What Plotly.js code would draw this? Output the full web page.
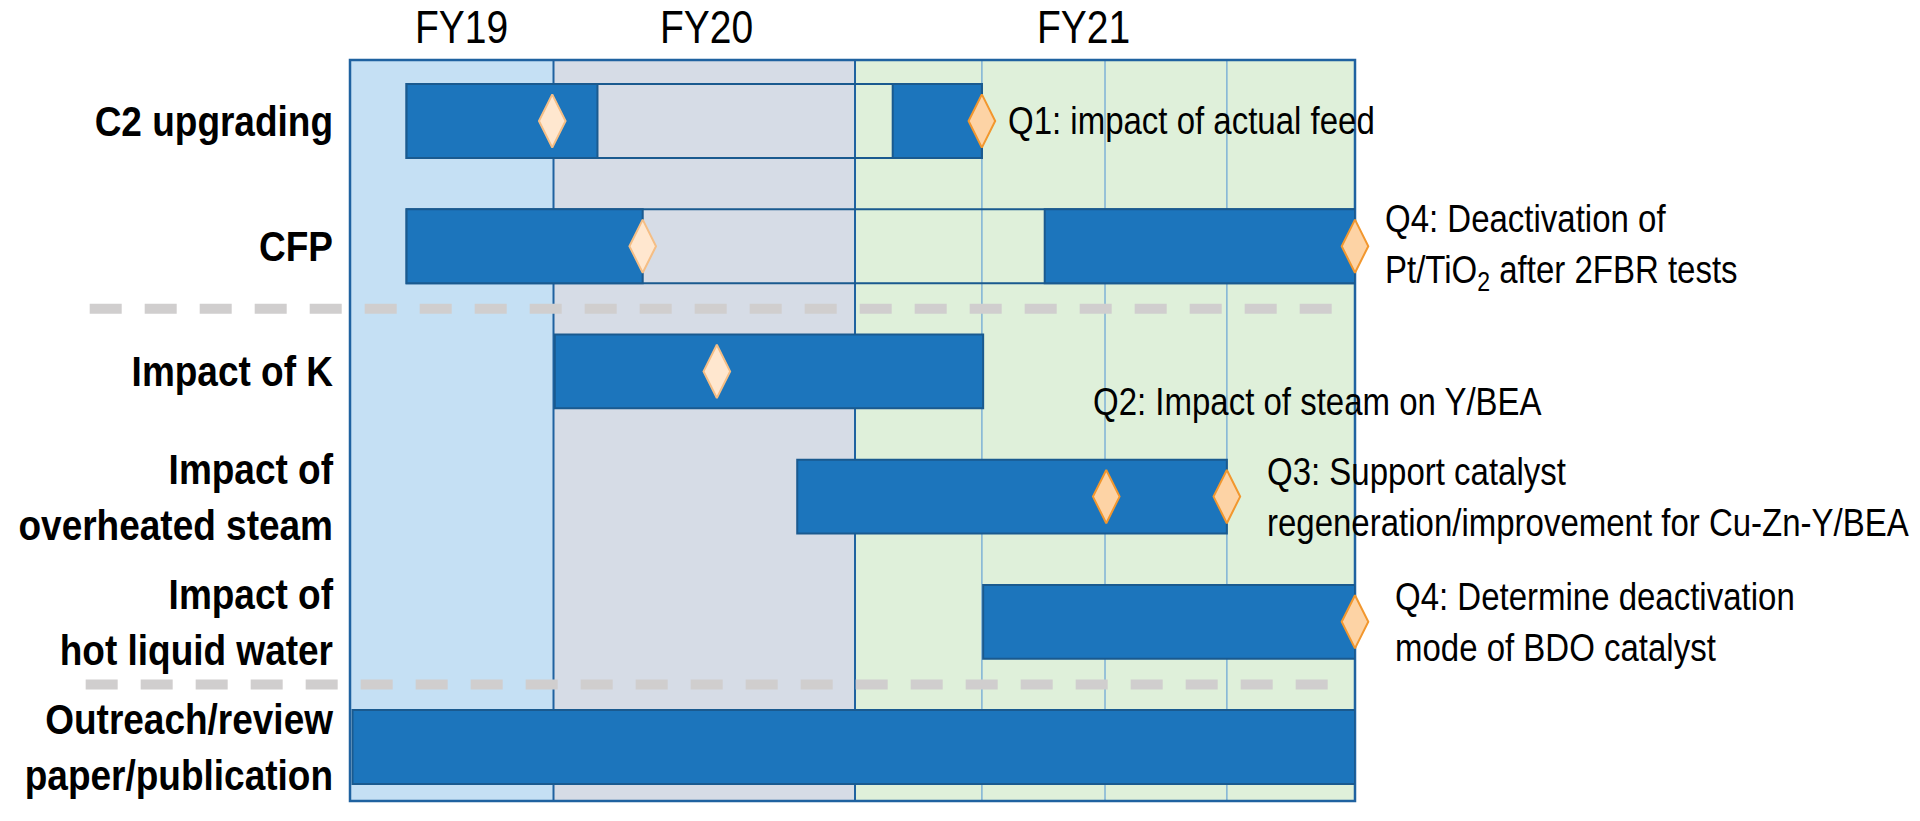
<!DOCTYPE html>
<html><head><meta charset="utf-8">
<script src="https://cdn.plot.ly/plotly-3.0.1.min.js"></script>
<style>html,body{margin:0;padding:0;background:#fff;}#chart{width:1920px;height:821px;}</style>
</head><body><div id="chart"></div>
<script>
// Timeline unit: one FY21 quarter
const fyNames = ['FY19', 'FY20', 'FY21'];
const fyStart = [0, 1.62, 4.02];
const fyEnd = [1.62, 4.02, 8.0];
const fyLabelX = [0.89, 2.84, 5.84];
const quarterLines = [5.03, 6.01, 6.98];

const tasks = ['C2 upgrading', 'CFP', 'Impact of K', 'Impact of<br>overheated steam', 'Impact of<br>hot liquid water', 'Outreach/review<br>paper/publication'];

// overall span outlines (tasks with gaps)
const spanTask = ['C2 upgrading', 'CFP'];
const spanStart = [0.45, 0.45];
const spanEnd = [5.03, 8.0];

// active work segments
const segTask = ['C2 upgrading', 'C2 upgrading', 'CFP', 'CFP', 'Impact of K', 'Impact of<br>overheated steam', 'Impact of<br>hot liquid water', 'Outreach/review<br>paper/publication'];
const segStart = [0.45, 4.32, 0.45, 5.53, 1.63, 3.56, 5.04, 0.02];
const segEnd = [1.97, 5.03, 2.33, 8.0, 5.04, 6.98, 8.0, 8.0];

// milestones: completed (light) and planned (orange)
const doneTask = ['C2 upgrading', 'CFP', 'Impact of K'];
const doneX = [1.61, 2.33, 2.92];
const planTask = ['C2 upgrading', 'CFP', 'Impact of<br>overheated steam', 'Impact of<br>overheated steam', 'Impact of<br>hot liquid water'];
const planX = [5.03, 8.0, 6.02, 6.98, 8.0];

// milestone notes
const noteText = ['Q1: impact of actual feed', 'Q4: Deactivation of<br>Pt/TiO<sub>2</sub> after 2FBR tests', 'Q2: Impact of steam on Y/BEA', 'Q3: Support catalyst<br>regeneration/improvement for Cu-Zn-Y/BEA', 'Q4: Determine deactivation<br>mode of BDO catalyst'];
const noteX = [5.22, 8.22, 5.90, 7.28, 8.30];
const noteRow = [0, 1, 2.24, 3, 4];

// separators between task groups (between rows)
const sepRow = [1.5, 4.5];

const XMAX = 8;
const FONT = '"Liberation Sans", Arial, sans-serif';
const BAR = '#1C75BC', BAR_EDGE = '#1A5A8F', FRAME = '#1F62A0', QLINE = '#7FB2D6';
const bandColors = ['#C5E0F4', '#D6DCE6', '#DFF0DA'];

const traces = [
  {
    type: 'bar', orientation: 'h', y: spanTask,
    base: spanStart, x: spanEnd.map((e, i) => e - spanStart[i]),
    width: 0.59, marker: {color: 'rgba(0,0,0,0)', line: {color: BAR_EDGE, width: 2}},
    hoverinfo: 'skip'
  },
  {
    type: 'bar', orientation: 'h', y: segTask,
    base: segStart, x: segEnd.map((e, i) => e - segStart[i]),
    width: 0.59, marker: {color: BAR, line: {color: BAR_EDGE, width: 2}},
    hoverinfo: 'skip'
  },
  {
    type: 'scatter', mode: 'markers', x: doneX, y: doneTask, cliponaxis: false,
    marker: {symbol: 'diamond-tall', size: 38, color: '#FFE7CF', line: {color: '#F5BE85', width: 2}},
    hoverinfo: 'skip'
  },
  {
    type: 'scatter', mode: 'markers', x: planX, y: planTask, cliponaxis: false,
    marker: {symbol: 'diamond-tall', size: 38, color: '#FDD3A5', line: {color: '#F2972E', width: 2}},
    hoverinfo: 'skip'
  }
];

const shapes = [];
fyNames.forEach((n, i) => {
  shapes.push({type: 'rect', layer: 'below', xref: 'x', yref: 'paper', x0: fyStart[i], x1: fyEnd[i], y0: 0, y1: 1,
    fillcolor: bandColors[i], line: {width: 0}});
});
quarterLines.forEach(q => {
  shapes.push({type: 'line', layer: 'below', xref: 'x', yref: 'paper', x0: q, x1: q, y0: 0, y1: 1,
    line: {color: QLINE, width: 1.5}});
});
fyStart.slice(1).forEach(b => {
  shapes.push({type: 'line', layer: 'below', xref: 'x', yref: 'paper', x0: b, x1: b, y0: 0, y1: 1,
    line: {color: FRAME, width: 2}});
});
shapes.push({type: 'rect', layer: 'below', xref: 'paper', yref: 'paper', x0: 0, x1: 1, y0: 0, y1: 1,
  line: {color: FRAME, width: 2.5}});
sepRow.forEach((r, i) => {
  shapes.push({type: 'line', layer: 'below', xref: 'paper', yref: 'y', x0: i === 0 ? -0.259 : -0.263, x1: 0.992, y0: r, y1: r,
    line: {color: '#D0CECE', width: 10, dash: '32px,23px'}});
});

const annotations = [];
fyNames.forEach((n, i) => {
  annotations.push({text: n, xref: 'x', yref: 'paper', x: fyLabelX[i], y: 1.045, xanchor: 'center', yanchor: 'middle',
    showarrow: false, font: {family: FONT, size: 39, color: '#000'}});
});
noteText.forEach((t, i) => {
  annotations.push({text: t, xref: 'paper', yref: 'y', x: noteX[i] / XMAX, y: noteRow[i], xanchor: 'left', yanchor: 'middle',
    align: 'left', showarrow: false, font: {family: FONT, size: 33, color: '#000'}});
});

const layout = {
  width: 1920, height: 821,
  margin: {l: 350, r: 565, t: 60, b: 20, pad: 0},
  paper_bgcolor: '#ffffff', plot_bgcolor: 'rgba(0,0,0,0)',
  barmode: 'overlay', showlegend: false,
  font: {family: FONT, color: '#000'},
  xaxis: {range: [0, XMAX], showgrid: false, zeroline: false, showticklabels: false, ticks: '', showline: false},
  yaxis: {type: 'category', categoryorder: 'array', categoryarray: tasks, range: [5.431, -0.487],
    showgrid: false, zeroline: false, ticks: '', showline: false, ticklabelstandoff: 16,
    tickfont: {family: FONT, size: 37, color: '#000', weight: 'bold'}},
  shapes: shapes, annotations: annotations
};

// The reference lettering is tall and narrow: stretch text vertically about its centre
function stretch(el, sy) {
  const svg = el.ownerSVGElement;
  const parent = el.parentNode;
  if (!svg || !parent || !parent.getScreenCTM) return;
  const r = el.getBoundingClientRect();
  const p = svg.createSVGPoint();
  p.x = r.left + r.width / 2; p.y = r.top + r.height / 2;
  const q = p.matrixTransform(parent.getScreenCTM().inverse());
  const g = document.createElementNS('http://www.w3.org/2000/svg', 'g');
  g.setAttribute('transform', 'translate(0,' + q.y + ') scale(1,' + sy + ') translate(0,' + (-q.y) + ')');
  parent.insertBefore(g, el);
  g.appendChild(el);
}

Plotly.newPlot('chart', traces, layout, {displayModeBar: false, staticPlot: true}).then(gd => {
  gd.querySelectorAll('.ytick text').forEach(t => stretch(t, 1.17));
  gd.querySelectorAll('.annotation-text').forEach(t => stretch(t, 1.2));
});
</script></body></html>
